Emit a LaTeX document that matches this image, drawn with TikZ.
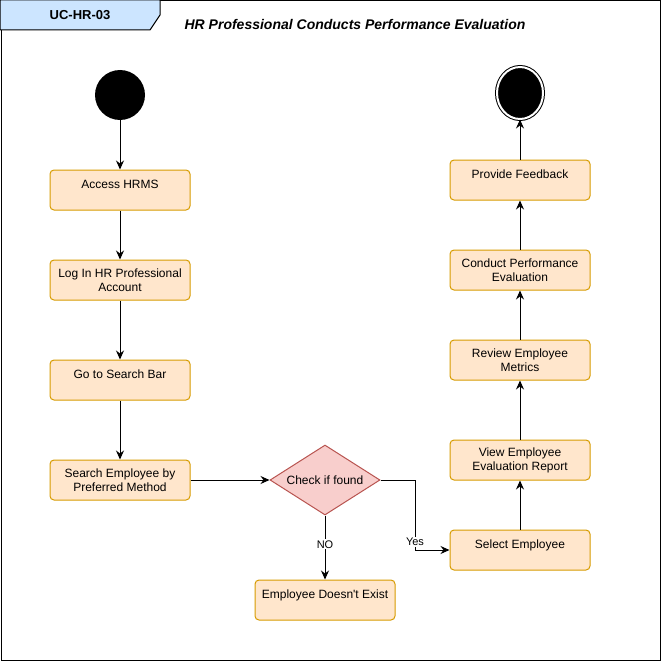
\documentclass[tikz,border=0pt]{standalone}
\usepackage{fontspec}
\setmainfont{Liberation Sans}
\usepackage{xcolor}
\usepackage{tikz}
\usetikzlibrary{calc}
\usetikzlibrary{arrows.meta}
\usetikzlibrary{shapes.geometric}
\definecolor{boxfill}{HTML}{FFE6CC}
\definecolor{boxline}{HTML}{D79B00}
\definecolor{checkfill}{HTML}{F8CECC}
\definecolor{checkline}{HTML}{B85450}
\definecolor{tabfill}{HTML}{CCE5FF}

\begin{document}
\begin{tikzpicture} [x=1pt, y=-1pt,
  box/.style={draw=boxline, fill=boxfill, rounded corners=4, line width=1pt, minimum width=140, minimum height=40, inner sep=2, align=center, font=\fontsize{12}{14}\selectfont},
  oneline/.style={text height=8pt, text depth=11pt},
  flow/.style={->, >={Stealth[length=9pt,width=8pt,inset=3pt]}, line width=1pt},
  tag/.style={fill=white, inner sep=1, font=\fontsize{11}{13}\selectfont}]
\useasboundingbox (0,0) rectangle (661,661);
\draw[black, line width=1pt] (1,1) rectangle (660,660);

% header
\draw[black, fill=tabfill, line width=1pt] (0,0)--(160,0)--(160,15)--(150,30)--(0,30)--cycle;
\node (tab) at (80,15) {\fontsize{13}{15}\selectfont\bfseries UC-HR-03};
\node (title) at (355,24) {\fontsize{14}{16}\selectfont\bfseries\itshape HR Professional Conducts Performance Evaluation};

% start / end
\node[circle, fill=black, minimum size=50, inner sep=0] (start) at (120,95) {};
\node[ellipse, fill=black, draw, double=white, double distance=2pt, line width=1pt, minimum width=46, minimum height=52, inner sep=0] (finish) at (520,93) {};

% left column
\node[box, oneline] (access) at (120,190) {Access HRMS};
\node[box] (login) at (120,280) {Log In HR Professional\\Account};
\node[box, oneline] (searchbar) at (120,380) {Go to Search Bar};
\node[box] (search) at (120,480) {Search Employee by\\Preferred Method};

% decision
\node[diamond, draw=checkline, fill=checkfill, line width=1pt, minimum width=110, minimum height=70, inner sep=0, aspect=1.57, font=\fontsize{12}{14}\selectfont] (check) at (325,480) {Check if found};
\node[box, oneline] (notexist) at (325,600) {Employee Doesn\textquotesingle t Exist};

% right column
\node[box, oneline] (select) at (520,550) {Select Employee};
\node[box] (report) at (520,460) {View Employee\\Evaluation Report};
\node[box] (metrics) at (520,360) {Review Employee\\Metrics};
\node[box] (evaluate) at (520,270) {Conduct Performance\\Evaluation};
\node[box, oneline] (feedback) at (520,180) {Provide Feedback};

\coordinate (bend) at (415,480);

\draw[flow] (start) -- (access);
\draw[flow] (access) -- (login);
\draw[flow] (login) -- (searchbar);
\draw[flow] (searchbar) -- (search);
\draw[flow] (search) -- (check);
\draw[flow] (check) -- node[tag, pos=0.45] {NO} (notexist);
\draw[flow] (check.east) -- (bend) |- node[tag, pos=0.443] {Yes} (select.west);
\draw[flow] (select) -- (report);
\draw[flow] (report) -- (metrics);
\draw[flow] (metrics) -- (evaluate);
\draw[flow] (evaluate) -- (feedback);
\draw[flow] (feedback) -- (finish);
\end{tikzpicture}
\end{document}
